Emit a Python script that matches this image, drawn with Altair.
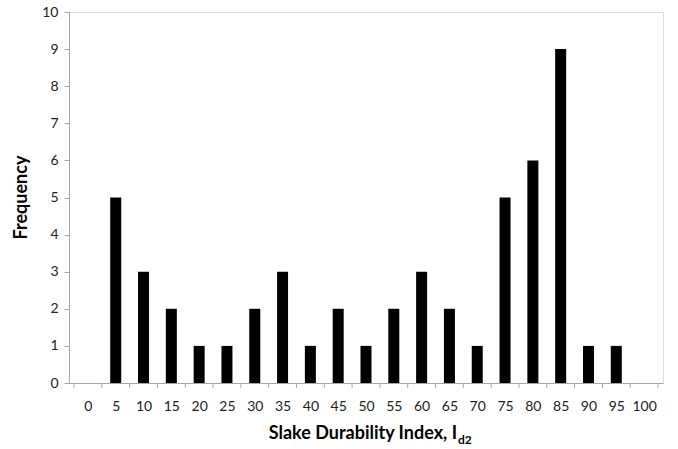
import altair as alt
import pandas as pd

# Slake durability index bins (class marks) and the count of samples in each
index_bins = [0, 5, 10, 15, 20, 25, 30, 35, 40, 45, 50, 55, 60, 65, 70, 75, 80, 85, 90, 95, 100]
frequency = [0, 5, 3, 2, 1, 1, 2, 3, 1, 2, 1, 2, 3, 2, 1, 5, 6, 9, 1, 1, 0]

BIN_WIDTH = 5
bars_df = pd.DataFrame({"bin": index_bins, "count": frequency})
bars_df = bars_df[bars_df["count"] > 0]

# Tick marks sit on the boundaries between bins
edges = [b - BIN_WIDTH / 2 for b in index_bins] + [index_bins[-1] + BIN_WIDTH / 2]
edges_df = pd.DataFrame({"edge": edges})

W, H = 594, 371
FONT = "Lato"
x_scale = alt.Scale(domain=[edges[0], edges[-1]], nice=False, zero=False)
x_axis = alt.Axis(values=index_bins, ticks=False, title=None, grid=False,
                  domainColor="#a6a6a6", labelFont=FONT, labelFontSize=14,
                  labelColor="#222222", labelPadding=16, labelFlush=False,
                  labelOverlap=False, labelSeparation=0, tickCount=21)

bars = alt.Chart(bars_df).mark_bar(color="black", size=11).encode(
    x=alt.X("bin:Q", scale=x_scale, axis=x_axis),
    y=alt.Y("count:Q", scale=alt.Scale(domain=[0, 10], nice=False),
            axis=alt.Axis(values=list(range(11)), grid=False, title=None,
                          domainColor="#a6a6a6", tickColor="#a6a6a6", tickSize=5,
                          labelFont=FONT, labelFontSize=14, labelColor="#222222",
                          labelPadding=6, labelOverlap=False)),
)

ticks = alt.Chart(edges_df).mark_rule(color="#a6a6a6", strokeWidth=1).encode(
    x=alt.X("edge:Q", scale=x_scale, axis=x_axis),
    y=alt.value(H),
    y2=alt.value(H + 5),
)

y_title = alt.Chart(pd.DataFrame({"t": ["Frequency"]})).mark_text(
    angle=270, font=FONT, fontSize=18, fontWeight="bold", color="black"
).encode(text="t:N", x=alt.value(-47), y=alt.value(H / 2))

x_title = alt.Chart(pd.DataFrame({"t": ["Slake Durability Index, I"]})).mark_text(
    align="right", baseline="middle", font=FONT, fontSize=18, fontWeight="bold", color="black"
).encode(text="t:N", x=alt.value(388), y=alt.value(H + 51))

x_sub = alt.Chart(pd.DataFrame({"t": ["d2"]})).mark_text(
    align="left", baseline="middle", font=FONT, fontSize=12, fontWeight="bold", color="black"
).encode(text="t:N", x=alt.value(389), y=alt.value(H + 57))

chart = alt.layer(bars, ticks, y_title, x_title, x_sub).properties(
    width=W, height=H,
    autosize=alt.AutoSizeParams(type="none"),
    padding={"left": 69, "top": 12, "right": 15, "bottom": 66},
).configure_view(stroke=None).configure(background="white")

chart.save("out.html", embed_options={"renderer": "svg", "actions": False})
